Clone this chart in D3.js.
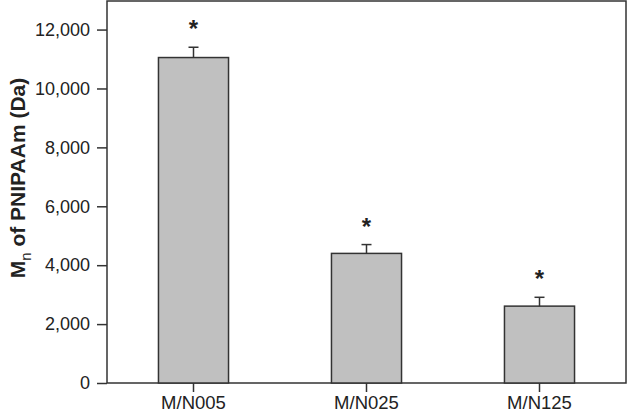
<!DOCTYPE html>
<html>
<head>
<meta charset="utf-8">
<script src="https://cdn.jsdelivr.net/npm/d3@7"></script>
<style>
  body { margin: 0; background: #fff; }
  svg text { font-family: "Liberation Sans", Arial, sans-serif; fill: #222; }
</style>
</head>
<body>
<svg id="chart" width="629" height="413"></svg>
<script>
// data
var samples = ["M/N005", "M/N025", "M/N125"];
var mnValues = [11050, 4400, 2610];
var mnErrors = [350, 300, 300];
var yTicks = [0, 2000, 4000, 6000, 8000, 10000, 12000];

var svg = d3.select("#chart");
var plotLeft = 107, plotRight = 626, plotTop = 1, plotBottom = 383;

var x = d3.scaleBand()
    .domain(samples)
    .range([plotLeft, plotRight])
    .paddingInner(0.595)
    .paddingOuter(0.2975);

var y = d3.scaleLinear()
    .domain([0, 12970])
    .range([plotBottom, plotTop]);

// frame
svg.append("rect")
    .attr("x", plotLeft).attr("y", plotTop)
    .attr("width", plotRight - plotLeft).attr("height", plotBottom - plotTop)
    .attr("fill", "none")
    .attr("stroke", "#333")
    .attr("stroke-width", 1.5);

// bars
svg.selectAll("rect.bar")
    .data(samples)
    .enter()
    .append("rect")
        .attr("class", "bar")
        .attr("x", function(d){ return x(d) })
        .attr("y", function(d,i){ return y(mnValues[i]) })
        .attr("width", x.bandwidth())
        .attr("height", function(d,i){ return y(0) - y(mnValues[i]) })
        .attr("fill", "#c0c0c0")
        .attr("stroke", "#333")
        .attr("stroke-width", 1.5);

// error bars (upper only)
var cx = function(d){ return x(d) + x.bandwidth()/2 };
svg.selectAll("line.err")
    .data(samples)
    .enter()
    .append("line")
        .attr("class", "err")
        .attr("x1", cx).attr("x2", cx)
        .attr("y1", function(d,i){ return y(mnValues[i]) })
        .attr("y2", function(d,i){ return y(mnValues[i] + mnErrors[i]) })
        .attr("stroke", "#333").attr("stroke-width", 1.5);
svg.selectAll("line.cap")
    .data(samples)
    .enter()
    .append("line")
        .attr("class", "cap")
        .attr("x1", function(d){ return cx(d) - 5 })
        .attr("x2", function(d){ return cx(d) + 5 })
        .attr("y1", function(d,i){ return y(mnValues[i] + mnErrors[i]) })
        .attr("y2", function(d,i){ return y(mnValues[i] + mnErrors[i]) })
        .attr("stroke", "#333").attr("stroke-width", 1.5);

// significance stars
svg.selectAll("text.star")
    .data(samples)
    .enter()
    .append("text")
        .attr("class", "star")
        .attr("x", cx)
        .attr("y", function(d,i){ return y(mnValues[i] + mnErrors[i]) - 10 })
        .attr("text-anchor", "middle")
        .style("font-size", "24px")
        .style("font-weight", "bold")
        .text("*");

// y axis
var yAxis = svg.append("g")
    .attr("transform", "translate(" + plotLeft + ",0)")
    .call(d3.axisLeft(y).tickValues(yTicks).tickSize(10).tickPadding(7)
        .tickFormat(d3.format(",")));
yAxis.select(".domain").remove();
yAxis.selectAll(".tick line").attr("stroke", "#333").attr("stroke-width", 1.5);
yAxis.selectAll(".tick text")
    .style("font-size", "18px")
    .style("font-family", "Liberation Sans, Arial, sans-serif")
    .attr("fill", "#222");

// x axis
var xAxis = svg.append("g")
    .attr("transform", "translate(0," + plotBottom + ")")
    .call(d3.axisBottom(x).tickSize(9).tickPadding(4));
xAxis.select(".domain").remove();
xAxis.selectAll(".tick line").attr("stroke", "#333").attr("stroke-width", 1.5);
xAxis.selectAll(".tick text")
    .style("font-size", "18.5px")
    .style("font-family", "Liberation Sans, Arial, sans-serif")
    .attr("fill", "#222");

// y label
var yLabel = svg.append("text")
    .attr("transform", "translate(25,178) rotate(-90)")
    .attr("text-anchor", "middle")
    .style("font-size", "21px")
    .style("font-weight", "bold");
yLabel.append("tspan").text("M");
yLabel.append("tspan").attr("dy", 6).style("font-size", "15px").style("font-weight", "normal").text("n");
yLabel.append("tspan").attr("dy", -6).text(" of PNIPAAm (Da)");
</script>
</body>
</html>
